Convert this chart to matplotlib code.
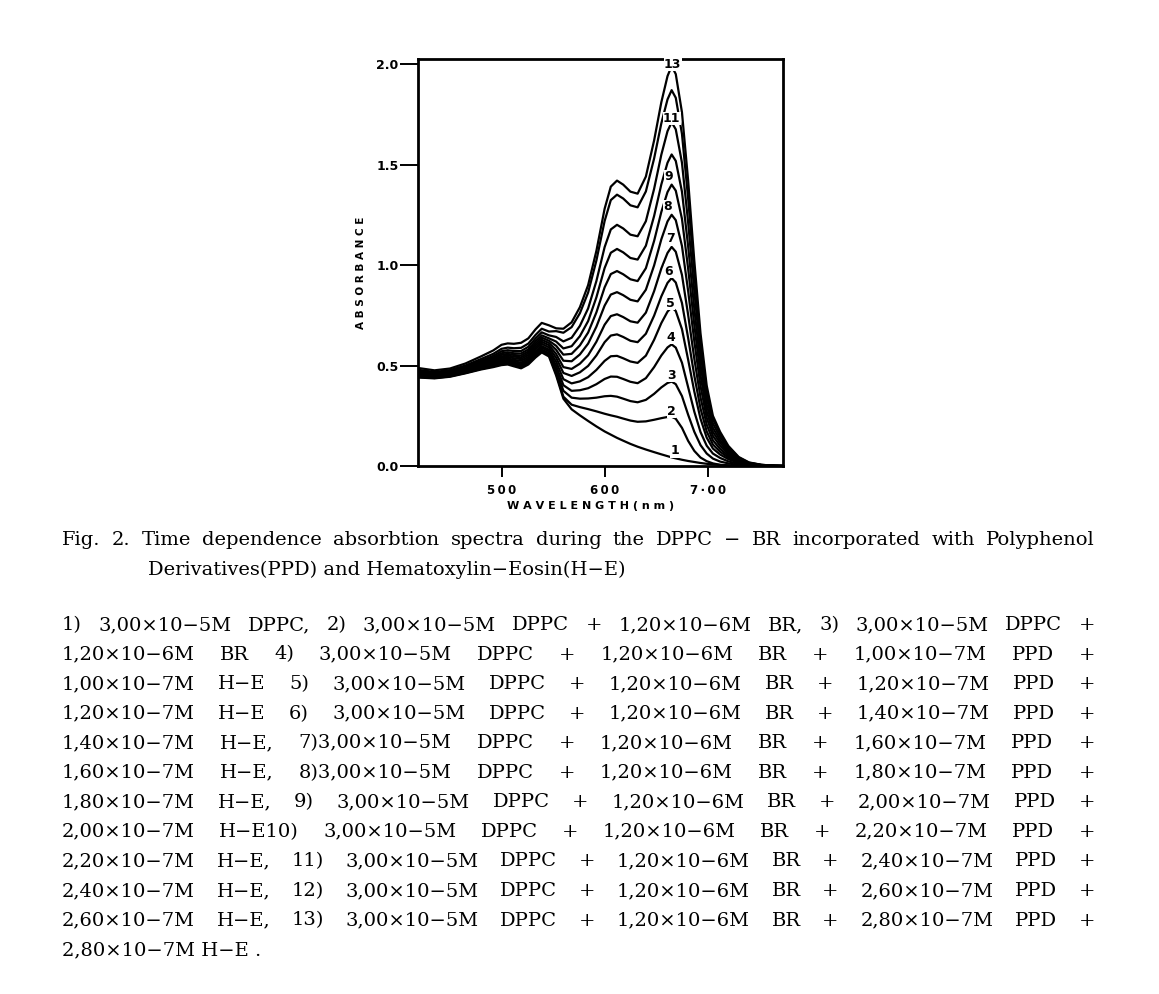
import matplotlib
matplotlib.use("Agg")
import matplotlib.pyplot as plt

# ---------------- data ----------------
WAVELENGTH = [420, 435, 450, 465, 480, 492, 500, 506, 512, 519, 526, 533, 539, 546,
              553, 560, 568, 576, 584, 592, 600, 606, 612, 618, 625, 632, 640, 648, 655, 661, 665,
              669, 675, 681, 687, 693, 699, 705, 712, 720, 730, 740, 752, 765, 773]

C1 = [0.440, 0.436, 0.444, 0.461, 0.480, 0.492, 0.502, 0.505, 0.496, 0.486, 0.505, 0.540, 0.565, 0.545,
      0.450, 0.335, 0.282, 0.252, 0.224, 0.197, 0.172, 0.156, 0.140, 0.126, 0.110, 0.096, 0.082, 0.069, 0.058, 0.049, 0.043,
      0.038, 0.031, 0.025, 0.020, 0.015, 0.011, 0.008, 0.005, 0.003, 0.001, 0.0, 0.0, 0.0, 0.0]
C2 = [0.442, 0.438, 0.446, 0.463, 0.483, 0.496, 0.507, 0.510, 0.502, 0.492, 0.512, 0.547, 0.572, 0.553,
      0.460, 0.345, 0.305, 0.293, 0.283, 0.272, 0.260, 0.252, 0.245, 0.236, 0.226, 0.220, 0.222, 0.230, 0.238, 0.244, 0.245,
      0.235, 0.190, 0.125, 0.075, 0.042, 0.024, 0.013, 0.006, 0.003, 0.001, 0.0, 0.0, 0.0, 0.0]
C3 = [0.445, 0.440, 0.448, 0.466, 0.487, 0.500, 0.512, 0.516, 0.507, 0.499, 0.518, 0.554, 0.580, 0.561,
      0.479, 0.374, 0.340, 0.335, 0.336, 0.340, 0.347, 0.349, 0.345, 0.335, 0.323, 0.317, 0.329, 0.359, 0.391, 0.413, 0.420,
      0.407, 0.348, 0.255, 0.170, 0.104, 0.062, 0.037, 0.022, 0.013, 0.005, 0.002, 0.001, 0.0, 0.0]
C4 = [0.448, 0.442, 0.451, 0.469, 0.490, 0.505, 0.518, 0.522, 0.514, 0.506, 0.526, 0.562, 0.589, 0.570,
      0.498, 0.402, 0.374, 0.377, 0.387, 0.407, 0.433, 0.445, 0.444, 0.433, 0.419, 0.412, 0.437, 0.492, 0.550, 0.590, 0.605,
      0.589, 0.514, 0.392, 0.270, 0.169, 0.101, 0.062, 0.040, 0.023, 0.010, 0.004, 0.001, 0.0, 0.0]
C5 = [0.450, 0.445, 0.453, 0.472, 0.494, 0.510, 0.524, 0.528, 0.521, 0.514, 0.534, 0.571, 0.597, 0.579,
      0.518, 0.432, 0.411, 0.421, 0.442, 0.478, 0.523, 0.546, 0.548, 0.536, 0.520, 0.513, 0.549, 0.628, 0.711, 0.768, 0.790,
      0.771, 0.681, 0.529, 0.370, 0.235, 0.141, 0.087, 0.057, 0.034, 0.015, 0.005, 0.002, 0.0, 0.0]
C6 = [0.454, 0.448, 0.456, 0.475, 0.499, 0.516, 0.531, 0.535, 0.528, 0.523, 0.543, 0.581, 0.608, 0.590,
      0.538, 0.463, 0.448, 0.466, 0.498, 0.550, 0.616, 0.649, 0.655, 0.642, 0.623, 0.616, 0.658, 0.748, 0.844, 0.911, 0.935,
      0.913, 0.811, 0.637, 0.449, 0.286, 0.172, 0.107, 0.071, 0.042, 0.018, 0.007, 0.002, 0.0, 0.0]
C7 = [0.457, 0.450, 0.459, 0.479, 0.503, 0.522, 0.538, 0.543, 0.536, 0.532, 0.552, 0.590, 0.618, 0.601,
      0.557, 0.492, 0.483, 0.509, 0.551, 0.618, 0.703, 0.746, 0.755, 0.741, 0.720, 0.713, 0.763, 0.870, 0.983, 1.060, 1.090,
      1.066, 0.951, 0.752, 0.533, 0.341, 0.206, 0.128, 0.085, 0.050, 0.022, 0.008, 0.003, 0.001, 0.0]
C8 = [0.460, 0.453, 0.462, 0.482, 0.508, 0.528, 0.545, 0.550, 0.544, 0.541, 0.561, 0.600, 0.628, 0.612,
      0.578, 0.524, 0.521, 0.555, 0.609, 0.693, 0.798, 0.853, 0.865, 0.850, 0.827, 0.819, 0.877, 0.998, 1.128, 1.217, 1.250,
      1.223, 1.095, 0.871, 0.620, 0.398, 0.240, 0.150, 0.100, 0.059, 0.026, 0.010, 0.003, 0.001, 0.0]
C9 = [0.464, 0.456, 0.465, 0.486, 0.513, 0.534, 0.553, 0.558, 0.552, 0.550, 0.570, 0.610, 0.639, 0.623,
      0.598, 0.554, 0.558, 0.600, 0.664, 0.764, 0.889, 0.955, 0.970, 0.954, 0.929, 0.920, 0.984, 1.120, 1.264, 1.363, 1.400,
      1.370, 1.230, 0.982, 0.701, 0.451, 0.272, 0.170, 0.115, 0.068, 0.030, 0.012, 0.004, 0.001, 0.0]
C10 = [0.467, 0.459, 0.468, 0.489, 0.518, 0.540, 0.561, 0.566, 0.561, 0.560, 0.580, 0.621, 0.650, 0.635,
       0.619, 0.585, 0.596, 0.646, 0.721, 0.839, 0.985, 1.061, 1.080, 1.063, 1.035, 1.027, 1.096, 1.244, 1.401, 1.509, 1.550,
       1.518, 1.365, 1.093, 0.782, 0.504, 0.305, 0.190, 0.129, 0.076, 0.034, 0.013, 0.004, 0.001, 0.0]
C11 = [0.472, 0.463, 0.472, 0.494, 0.524, 0.548, 0.571, 0.576, 0.572, 0.572, 0.593, 0.635, 0.665, 0.650,
       0.642, 0.620, 0.638, 0.697, 0.784, 0.920, 1.089, 1.177, 1.200, 1.182, 1.151, 1.143, 1.218, 1.379, 1.549, 1.666, 1.710,
       1.675, 1.509, 1.212, 0.869, 0.561, 0.339, 0.212, 0.144, 0.085, 0.038, 0.015, 0.005, 0.001, 0.0]
C12 = [0.478, 0.468, 0.477, 0.500, 0.532, 0.558, 0.583, 0.589, 0.586, 0.588, 0.609, 0.652, 0.683, 0.669,
       0.671, 0.663, 0.691, 0.760, 0.863, 1.022, 1.219, 1.323, 1.350, 1.331, 1.297, 1.287, 1.366, 1.530, 1.705, 1.824, 1.870,
       1.832, 1.653, 1.331, 0.956, 0.617, 0.373, 0.234, 0.159, 0.094, 0.042, 0.016, 0.006, 0.001, 0.0]
C13 = [0.487, 0.476, 0.485, 0.510, 0.545, 0.575, 0.603, 0.610, 0.608, 0.613, 0.635, 0.680, 0.712, 0.700,
       0.685, 0.683, 0.715, 0.790, 0.900, 1.070, 1.280, 1.390, 1.420, 1.400, 1.365, 1.355, 1.440, 1.620, 1.810, 1.940, 1.990,
       1.950, 1.760, 1.420, 1.020, 0.660, 0.400, 0.250, 0.170, 0.100, 0.045, 0.018, 0.006, 0.001, 0.0]

CURVES = [C1, C2, C3, C4, C5, C6, C7, C8, C9, C10, C11, C12, C13]

CURVE_LABELS = ["1", "2", "3", "4", "5", "6", "7", "8", "9", "11", "13"]
LABEL_WL = [668, 665, 665, 664, 664, 662, 664, 661.5, 662, 665, 666]
LABEL_ABS = [0.075, 0.27, 0.45, 0.64, 0.81, 0.97, 1.13, 1.29, 1.44, 1.73, 2.0]

Y_TICKS = [0.0, 0.5, 1.0, 1.5, 2.0]
Y_TICK_LABELS = ["0.0", "0.5", "1.0", "1.5", "2.0"]
X_TICKS = [500, 600, 700]
X_TICK_LABELS = ["5\u20090\u20090", "6\u20090\u20090", "7\u2009\u00b7\u20090\u20090"]

TITLE_LINE1 = "Fig. 2. Time dependence absorbtion spectra during the DPPC \u2212 BR incorporated with Polyphenol"
TITLE_LINE2 = "Derivatives(PPD) and Hematoxylin\u2212Eosin(H\u2212E)"
LIST_LINES = [
    "1) 3,00\u00d710\u22125M DPPC, 2) 3,00\u00d710\u22125M DPPC + 1,20\u00d710\u22126M BR, 3) 3,00\u00d710\u22125M DPPC +",
    "1,20\u00d710\u22126M BR 4) 3,00\u00d710\u22125M DPPC + 1,20\u00d710\u22126M BR + 1,00\u00d710\u22127M PPD +",
    "1,00\u00d710\u22127M H\u2212E 5) 3,00\u00d710\u22125M DPPC + 1,20\u00d710\u22126M BR + 1,20\u00d710\u22127M PPD +",
    "1,20\u00d710\u22127M H\u2212E 6) 3,00\u00d710\u22125M DPPC + 1,20\u00d710\u22126M BR + 1,40\u00d710\u22127M PPD +",
    "1,40\u00d710\u22127M H\u2212E, 7)3,00\u00d710\u22125M DPPC + 1,20\u00d710\u22126M BR + 1,60\u00d710\u22127M PPD +",
    "1,60\u00d710\u22127M H\u2212E, 8)3,00\u00d710\u22125M DPPC + 1,20\u00d710\u22126M BR + 1,80\u00d710\u22127M PPD +",
    "1,80\u00d710\u22127M H\u2212E, 9) 3,00\u00d710\u22125M DPPC + 1,20\u00d710\u22126M BR + 2,00\u00d710\u22127M PPD +",
    "2,00\u00d710\u22127M H\u2212E10) 3,00\u00d710\u22125M DPPC + 1,20\u00d710\u22126M BR + 2,20\u00d710\u22127M PPD +",
    "2,20\u00d710\u22127M H\u2212E, 11) 3,00\u00d710\u22125M DPPC + 1,20\u00d710\u22126M BR + 2,40\u00d710\u22127M PPD +",
    "2,40\u00d710\u22127M H\u2212E, 12) 3,00\u00d710\u22125M DPPC + 1,20\u00d710\u22126M BR + 2,60\u00d710\u22127M PPD +",
    "2,60\u00d710\u22127M H\u2212E, 13) 3,00\u00d710\u22125M DPPC + 1,20\u00d710\u22126M BR + 2,80\u00d710\u22127M PPD +",
]
LAST_LINE = "2,80\u00d710\u22127M H\u2212E ."

# ---------------- figure ----------------
FW, FH = 1159, 994
fig = plt.figure(figsize=(FW / 100, FH / 100), dpi=100)
fig.patch.set_facecolor("white")

ax = fig.add_axes([418 / FW, 1 - 466 / FH, 365 / FW, 407 / FH])
for c in CURVES:
    ax.plot(WAVELENGTH, c, color="black", lw=1.6, solid_joinstyle="round", solid_capstyle="round")

ax.set_xlim(419, 773)
ax.set_ylim(0, 2.025)

for s in ax.spines.values():
    s.set_linewidth(2.0)
    s.set_color("black")

ax.set_yticks(Y_TICKS)
ax.set_yticklabels(Y_TICK_LABELS, fontsize=9, fontweight="bold", family="DejaVu Sans")
ax.set_xticks(X_TICKS)
ax.set_xticklabels(X_TICK_LABELS, fontsize=8.5, fontweight="bold", family="DejaVu Sans")
ax.tick_params(axis="y", direction="out", length=13, width=1.4, pad=1)
ax.tick_params(axis="x", direction="out", length=8, width=1.4, pad=5)

ax.set_xlabel("W A V E L E N G T H ( n m )", fontsize=8, fontweight="bold", va="center")
ax.xaxis.set_label_coords((591 - 418) / 365, (466 - 506) / 407)
ax.set_ylabel("A B S O R B A N C E", fontsize=7.5, fontweight="bold", va="center")
ax.yaxis.set_label_coords((361 - 418) / 365, (466 - 273) / 407)

for lab, x, y in zip(CURVE_LABELS, LABEL_WL, LABEL_ABS):
    ax.text(x, y, lab, fontsize=9, fontweight="bold", ha="center", va="center",
            bbox=dict(facecolor="white", edgecolor="none", pad=0.2), clip_on=False, zorder=5)

# ---------------- caption ----------------
SERIF = ["DejaVu Serif"]
FS = 14
renderer = fig.canvas.get_renderer()


def justified(line, baseline, x0=62, x1=1095):
    tokens = line.split()
    texts = [fig.text(0, 1 - baseline / FH, t, family=SERIF, fontsize=FS, va="baseline", ha="left")
             for t in tokens]
    widths = [t.get_window_extent(renderer).width for t in texts]
    gap = (x1 - x0 - sum(widths)) / (len(tokens) - 1)
    x = x0
    for t, w in zip(texts, widths):
        t.set_x(x / FW)
        x += w + gap


justified(TITLE_LINE1, 545)
fig.text(148 / FW, 1 - 575 / FH, TITLE_LINE2, family=SERIF, fontsize=FS, va="baseline", ha="left")

for i, line in enumerate(LIST_LINES):
    justified(line, 630 + i * 29.55)
fig.text(62 / FW, 1 - (630 + 11 * 29.55) / FH, LAST_LINE, family=SERIF, fontsize=FS, va="baseline", ha="left")

fig.savefig("out.png", dpi=100, facecolor="white")
